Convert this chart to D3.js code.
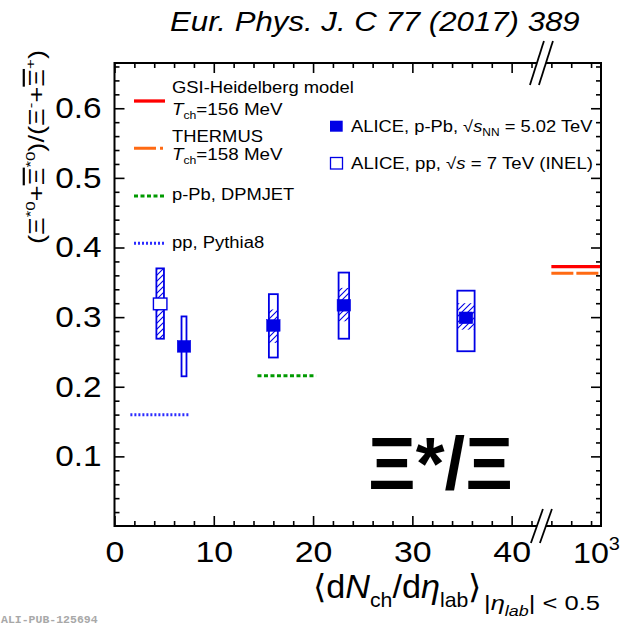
<!DOCTYPE html>
<html><head><meta charset="utf-8">
<script src="https://cdn.jsdelivr.net/npm/d3@7"></script>
<style>body{margin:0;background:#fff}svg{display:block}</style>
</head><body>
<script>
// ---------------- data ----------------
// p-Pb, sqrt(sNN)=5.02 TeV
const pPbX      = [7.0, 16.0, 23.1, 35.4];
const pPbXErr   = [0.25, 0.45, 0.53, 0.87];
const pPbY      = [0.258, 0.288, 0.317, 0.299];
const pPbSysLo  = [0.215, 0.242, 0.269, 0.251];
const pPbSysHi  = [0.301, 0.333, 0.364, 0.338];
const pPbUncLo  = [0.250, 0.263, 0.294, 0.282];
const pPbUncHi  = [0.266, 0.311, 0.342, 0.320];
// pp, sqrt(s)=7 TeV (INEL)
const ppX     = [4.6];
const ppXErr  = [0.38];
const ppY     = [0.319];
const ppSysLo = [0.269];
const ppSysHi = [0.370];
// model lines
const modelNames = ["GSI-Heidelberg model", "THERMUS", "p-Pb, DPMJET", "pp, Pythia8"];
const modelTch   = ["156", "158", "", ""];
const modelY     = [0.3725, 0.3630, 0.2158, 0.1597];
const modelX0    = [44.0, 44.0, 14.4, 1.6];
const modelX1    = [48.9, 48.8, 20.3, 7.5];
// axis ticks
const xMajor = [0, 10, 20, 30, 40];
const xMinor = [2,4,6,8,12,14,16,18,22,24,26,28,32,34,36,38,42,44,46,48];
const yMajor = [0.1, 0.2, 0.3, 0.4, 0.5, 0.6];
const yMinor = d3.range(1, 34).map(i => +(i*0.02).toFixed(2)).filter(v => Math.abs(v*10 - Math.round(v*10)) > 1e-6);
const xBreak = 43.0;

// ---------------- setup ----------------
const W = 625, H = 628;
const BLUE = "#0000e6";
const FONT = "'Liberation Sans', Arial, Helvetica, sans-serif";
const svg = d3.select("body").append("svg").attr("width", W).attr("height", H)
  .style("font-family", FONT);
const x = d3.scaleLinear().domain([0, 49]).range([114.5, 601]);
const y = d3.scaleLinear().domain([0, 0.665]).range([526, 63]);
const [X0, X1] = x.range(), [Y0, Y1] = y.range();

const defs = svg.append("defs");
defs.append("pattern").attr("id", "hatch").attr("patternUnits", "userSpaceOnUse")
  .attr("width", 6).attr("height", 6)
  .append("path").attr("d", "M-1,7 L7,-1 M-1,1 L1,-1 M5,7 L7,5")
  .attr("stroke", BLUE).attr("stroke-width", 1.1);

// rich text helper: parts [{t, sup, sub, i, fs}]
function rich(sel, parts, base) {
  let cur = 0;
  parts.forEach(p => {
    const off = p.sup ? -0.42*base : p.sub ? (p.subOff || 0.28)*base : 0;
    const ts = sel.append("tspan").attr("dy", off - cur).text(p.t);
    if (p.sup || p.sub || p.fs) ts.attr("font-size", (p.fs || 0.62)*base);
    if (p.i) ts.attr("font-style", "italic");
    if (p.ov) ts.style("text-decoration", "overline");
    cur = off;
  });
  return sel;
}
// place text with left edge at (px,py) baseline, horizontally stretched to width w
function fitText(parent, px, py, parts, size, w, opts = {}) {
  const g = parent.append("g");
  const inner = g.append("g");
  const t = inner.append("text").attr("x", 0).attr("y", 0).attr("font-size", size);
  if (opts.weight) t.attr("font-weight", opts.weight);
  if (opts.italic) t.attr("font-style", "italic");
  if (opts.fill) t.attr("fill", opts.fill);
  if (opts.family) t.style("font-family", opts.family);
  rich(t, parts, size);
  const bb = t.node().getBBox();
  const s = w ? w / bb.width : 1;
  inner.attr("transform", `scale(${s},1) translate(${-bb.x},0)`);
  g.attr("transform", `translate(${px},${py})` + (opts.rotate ? ` rotate(${opts.rotate})` : ""));
  return g;
}

// ---------------- axes / frame ----------------
function styleAxis(g) {
  g.select(".domain").remove();
  g.selectAll(".tick line").attr("stroke", "#000").attr("stroke-width", 1.6);
  g.selectAll("text").attr("fill", "#000").style("font-family", FONT);
}
const STRETCH = 1.13;
function stretchLabels(g) {
  g.selectAll("text").each(function() {
    const w = this.getComputedTextLength();
    d3.select(this).attr("textLength", w*STRETCH).attr("lengthAdjust", "spacingAndGlyphs");
  });
}
// bottom
svg.append("g").attr("transform", `translate(0,${Y0})`)
  .call(d3.axisBottom(x).tickValues(xMajor).tickSize(-10).tickPadding(15).tickFormat(d3.format("d")))
  .call(styleAxis).call(g => g.selectAll("text").attr("font-size", 30)).call(stretchLabels);
svg.append("g").attr("transform", `translate(0,${Y0})`)
  .call(d3.axisBottom(x).tickValues(xMinor).tickSize(-5).tickFormat(""))
  .call(styleAxis);
// top
svg.append("g").attr("transform", `translate(0,${Y1})`)
  .call(d3.axisTop(x).tickValues(xMajor).tickSize(-10).tickFormat(""))
  .call(styleAxis);
svg.append("g").attr("transform", `translate(0,${Y1})`)
  .call(d3.axisTop(x).tickValues(xMinor).tickSize(-5).tickFormat(""))
  .call(styleAxis);
// left
svg.append("g").attr("transform", `translate(${X0},0)`)
  .call(d3.axisLeft(y).tickValues(yMajor).tickSize(-10).tickPadding(13).tickFormat(d3.format(".1f")))
  .call(styleAxis).call(g => g.selectAll("text").attr("font-size", 29.5)).call(stretchLabels);
svg.append("g").attr("transform", `translate(${X0},0)`)
  .call(d3.axisLeft(y).tickValues(yMinor).tickSize(-5).tickFormat(""))
  .call(styleAxis);
// right
svg.append("g").attr("transform", `translate(${X1},0)`)
  .call(d3.axisRight(y).tickValues(yMajor).tickSize(-10).tickFormat(""))
  .call(styleAxis);
svg.append("g").attr("transform", `translate(${X1},0)`)
  .call(d3.axisRight(y).tickValues(yMinor).tickSize(-5).tickFormat(""))
  .call(styleAxis);
// frame
svg.append("rect").attr("x", X0).attr("y", Y1).attr("width", X1 - X0).attr("height", Y0 - Y1)
  .attr("fill", "none").attr("stroke", "#000").attr("stroke-width", 2);

// "10^3" label at far right
fitText(svg, 573, 563, [{t: "10"}, {t: "3", sup: true, fs: 0.62}], 30, 47);

// axis breaks
function brk(yc, dy, dx) {
  const xc = x(xBreak), gap = 4.5;
  svg.append("path")
    .attr("d", `M${xc-gap-dx},${yc+dy} L${xc-gap+dx},${yc-dy} L${xc+gap+dx},${yc-dy} L${xc+gap-dx},${yc+dy} Z`)
    .attr("fill", "#fff");
  [-gap, gap].forEach(o => svg.append("line")
    .attr("x1", xc+o-dx).attr("y1", yc+dy).attr("x2", xc+o+dx).attr("y2", yc-dy)
    .attr("stroke", "#000").attr("stroke-width", 1.8));
}
brk(Y0, 17, 6); brk(Y1, 22, 7);

// ---------------- model lines ----------------
const modelStyle = [
  {c: "#ff0000", w: 3.3, d: null, ld: null},
  {c: "#ff6a13", w: 3, d: "22,3", ld: "22,4,3,4"},
  {c: "#009a00", w: 3, d: "4,2.5", ld: "4,2.5"},
  {c: "#2b2bff", w: 3, d: "2,2", ld: "2,2"}
];
modelY.forEach((v, i) => {
  const st = modelStyle[i];
  const l = svg.append("line").attr("x1", x(modelX0[i])).attr("x2", x(modelX1[i]))
    .attr("y1", y(v)).attr("y2", y(v)).attr("stroke", st.c).attr("stroke-width", st.w);
  if (st.d) l.attr("stroke-dasharray", st.d);
});

// ---------------- data points ----------------
function drawPoint(xv, xe, yv, lo, hi, ulo, uhi, open) {
  const bx = x(xv - xe), bw = x(xv + xe) - x(xv - xe);
  svg.append("rect").attr("x", bx).attr("y", y(uhi)).attr("width", bw).attr("height", y(ulo) - y(uhi))
    .attr("fill", "url(#hatch)");
  svg.append("rect").attr("x", bx).attr("y", y(hi)).attr("width", bw).attr("height", y(lo) - y(hi))
    .attr("fill", "none").attr("stroke", BLUE).attr("stroke-width", 1.8);
  const mw = 13.5, mh = 11.7;
  svg.append("rect").attr("x", x(xv) - mw/2).attr("y", y(yv) - mh/2).attr("width", mw).attr("height", mh)
    .attr("fill", open ? "#fff" : BLUE).attr("stroke", BLUE).attr("stroke-width", open ? 1.4 : 0.5);
}
ppX.forEach((v, i) => drawPoint(v, ppXErr[i], ppY[i], ppSysLo[i], ppSysHi[i], ppSysLo[i], ppSysHi[i], true));
pPbX.forEach((v, i) => drawPoint(v, pPbXErr[i], pPbY[i], pPbSysLo[i], pPbSysHi[i], pPbUncLo[i], pPbUncHi[i], false));

// ---------------- legends ----------------
const legLineY = [101, 148.3, 196, 243.3];
modelNames.forEach((n, i) => {
  const st = modelStyle[i];
  const l = svg.append("line").attr("x1", 134).attr("x2", 165).attr("y1", legLineY[i]).attr("y2", legLineY[i])
    .attr("stroke", st.c).attr("stroke-width", st.w);
  if (st.ld) l.attr("stroke-dasharray", st.ld);
});
const LS = 16;
fitText(svg, 172, 93.3, [{t: modelNames[0]}], LS, 182);
fitText(svg, 172, 115, [{t: "T", i: true}, {t: "ch", sub: true, fs: 0.65}, {t: "=" + modelTch[0] + " MeV"}], LS, 111);
fitText(svg, 172, 142.3, [{t: modelNames[1]}], LS, 91);
fitText(svg, 172, 160, [{t: "T", i: true}, {t: "ch", sub: true, fs: 0.65}, {t: "=" + modelTch[1] + " MeV"}], LS, 111);
fitText(svg, 172, 200, [{t: modelNames[2]}], LS, 122.6);
fitText(svg, 172, 248, [{t: modelNames[3]}], LS, 92.3);

svg.append("rect").attr("x", 330).attr("y", 120.7).attr("width", 12.7).attr("height", 11).attr("fill", BLUE);
svg.append("rect").attr("x", 330.5).attr("y", 157.5).attr("width", 12).attr("height", 11.5)
  .attr("fill", "#fff").attr("stroke", BLUE).attr("stroke-width", 1.3);
fitText(svg, 351, 131.7, [{t: "ALICE, p-Pb, "}, {t: "√"}, {t: "s", i: true}, {t: "NN", sub: true, fs: 0.65}, {t: " = 5.02 TeV"}], LS, 242);
fitText(svg, 351, 169.3, [{t: "ALICE, pp, "}, {t: "√"}, {t: "s", i: true}, {t: " = 7 TeV (INEL)"}], LS, 242);

// ---------------- titles ----------------
fitText(svg, 170, 31, [{t: "Eur. Phys. J. C 77 (2017) 389"}], 28, 410, {italic: true});
// x title
fitText(svg, 313, 598, [{t: "⟨d"}, {t: "N", i: true}, {t: "ch", sub: true, fs: 0.62}, {t: "/d"}, {t: "η", i: true},
  {t: "lab", sub: true, fs: 0.62}, {t: "⟩"}], 33, 169);
fitText(svg, 484, 610, [{t: "|"}, {t: "η", i: true}, {t: "lab", sub: true, i: true, fs: 0.7}, {t: "| < 0.5"}], 20, 116);
// y title (rotated)
fitText(svg, 44, 244, [{t: "("}, {t: "Ξ"}, {t: "*0", sup: true}, {t: "+"}, {t: "Ξ", ov: true}, {t: "*0", sup: true},
  {t: ")/("}, {t: "Ξ"}, {t: "-", sup: true}, {t: "+"}, {t: "Ξ", ov: true}, {t: "+", sup: true}, {t: ")"}], 22, 194, {rotate: -90});
// big label
fitText(svg, 368, 489, [{t: "Ξ*/Ξ"}], 74, 145, {weight: "bold"});
// ALI-PUB tag
svg.append("text").attr("x", 1).attr("y", 623).attr("font-size", 11.5).attr("font-weight", "bold")
  .attr("fill", "#a8a8a8").style("font-family", "'Liberation Mono', 'DejaVu Sans Mono', monospace").text("ALI-PUB-125694");
</script>
</body></html>
